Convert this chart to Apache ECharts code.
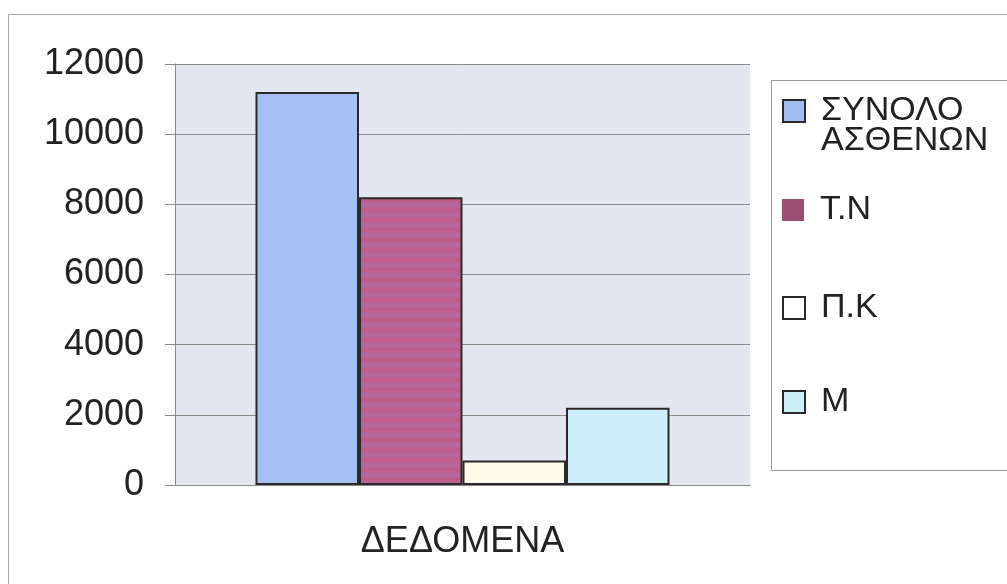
<!DOCTYPE html>
<html>
<head>
<meta charset="utf-8">
<script src="https://cdn.jsdelivr.net/npm/echarts@6/dist/echarts.min.js"></script>
<style>
  html, body { margin: 0; padding: 0; background: #fefefe; }
  #chart { width: 1007px; height: 584px; }
</style>
</head>
<body>
<div id="chart"></div>
<script>
// Category and series values
const categories = ['ΔΕΔΟΜΕΝΑ'];
const seriesNames = ['ΣΥΝΟΛΟ ΑΣΘΕΝΩΝ', 'Τ.Ν', 'Π.Κ', 'Μ'];
const totalPatients = [11200];
const tnValues = [8200];
const pkValues = [700];
const mValues = [2200];
const yTicks = { min: 0, max: 12000, interval: 2000 };

const FONT = "'Liberation Sans', Arial, sans-serif";
const EDGE = '#2a2a2a';

// Soft horizontal striping for the Τ.Ν bar
function stripePattern() {
  const c = document.createElement('canvas');
  c.width = 8; c.height = 10;
  const g = c.getContext('2d');
  const grad = g.createLinearGradient(0, 0, 0, 10);
  grad.addColorStop(0, '#c25a84');
  grad.addColorStop(0.5, '#b46aa4');
  grad.addColorStop(1, '#c25a84');
  g.fillStyle = grad;
  g.fillRect(0, 0, 8, 10);
  return c;
}

const chart = echarts.init(document.getElementById('chart'));

function legendFor(name, top, color, border, extra) {
  return Object.assign({
    data: [name],
    orient: 'vertical',
    left: 782,
    top: top,
    padding: 0,
    itemWidth: 22,
    itemHeight: 22,
    icon: 'rect',
    selectedMode: false,
    itemStyle: { color: color, borderColor: border, borderWidth: border === 'transparent' ? 0 : 2 },
    textStyle: {
      fontFamily: FONT, fontSize: 34, color: '#222', lineHeight: 30,
      padding: [0, 0, 0, 11]
    }
  }, extra || {});
}

const option = {
  backgroundColor: '#fefefe',
  animation: false,
  graphic: [
    { type: 'rect', z: 0, shape: { x: 8.5, y: 14.5, width: 1100, height: 700 },
      style: { fill: 'none', stroke: '#a8a8a8', lineWidth: 1 } },
    { type: 'rect', z: 1, shape: { x: 771.5, y: 80.5, width: 300, height: 390 },
      style: { fill: '#ffffff', stroke: '#9a9a9a', lineWidth: 1 } }
  ],
  legend: [
    // the marker sits beside the first of the two name lines
    legendFor(seriesNames[0], 64, '#a3bdee', EDGE, {
      formatter: n => '\u00a0\n' + n.replace(' ', '\n')
    }),
    legendFor(seriesNames[1], 193, '#9c4f72', 'transparent'),
    legendFor(seriesNames[2], 291, '#ffffff', EDGE),
    legendFor(seriesNames[3], 385, '#cdf1f6', EDGE)
  ],
  grid: {
    left: 175, top: 64, width: 575, height: 421,
    show: true, backgroundColor: '#e4e6f1', borderWidth: 0,
    outerBoundsMode: 'none'
  },
  xAxis: {
    type: 'category',
    data: categories,
    axisLine: { show: true, lineStyle: { color: '#8a8a8a', width: 1 } },
    axisTick: { show: false },
    axisLabel: { fontFamily: FONT, fontSize: 36, color: '#222', margin: 39 }
  },
  yAxis: {
    type: 'value',
    min: yTicks.min, max: yTicks.max, interval: yTicks.interval,
    axisLine: { show: true, lineStyle: { color: '#8a8a8a', width: 1 } },
    axisTick: { show: true, length: 10, lineStyle: { color: '#8a8a8a' } },
    splitLine: { show: true, lineStyle: { color: '#8c8c8c', width: 1 } },
    axisLabel: { fontFamily: FONT, fontSize: 36, color: '#222', margin: 31,
      formatter: v => String(v) }
  },
  series: [
    { name: seriesNames[0], type: 'bar', data: totalPatients, barGap: '0%', barCategoryGap: '28%',
      itemStyle: { color: '#a6c0f2', borderColor: EDGE, borderWidth: 2 } },
    { name: seriesNames[1], type: 'bar', data: tnValues, barGap: '0%', barCategoryGap: '28%',
      itemStyle: { color: { image: stripePattern(), repeat: 'repeat' }, borderColor: EDGE, borderWidth: 2 } },
    { name: seriesNames[2], type: 'bar', data: pkValues, barGap: '0%', barCategoryGap: '28%',
      itemStyle: { color: '#fffbe6', borderColor: EDGE, borderWidth: 2 } },
    { name: seriesNames[3], type: 'bar', data: mValues, barGap: '0%', barCategoryGap: '28%',
      itemStyle: { color: '#cdeffa', borderColor: EDGE, borderWidth: 2 } }
  ]
};

chart.setOption(option);
</script>
</body>
</html>
